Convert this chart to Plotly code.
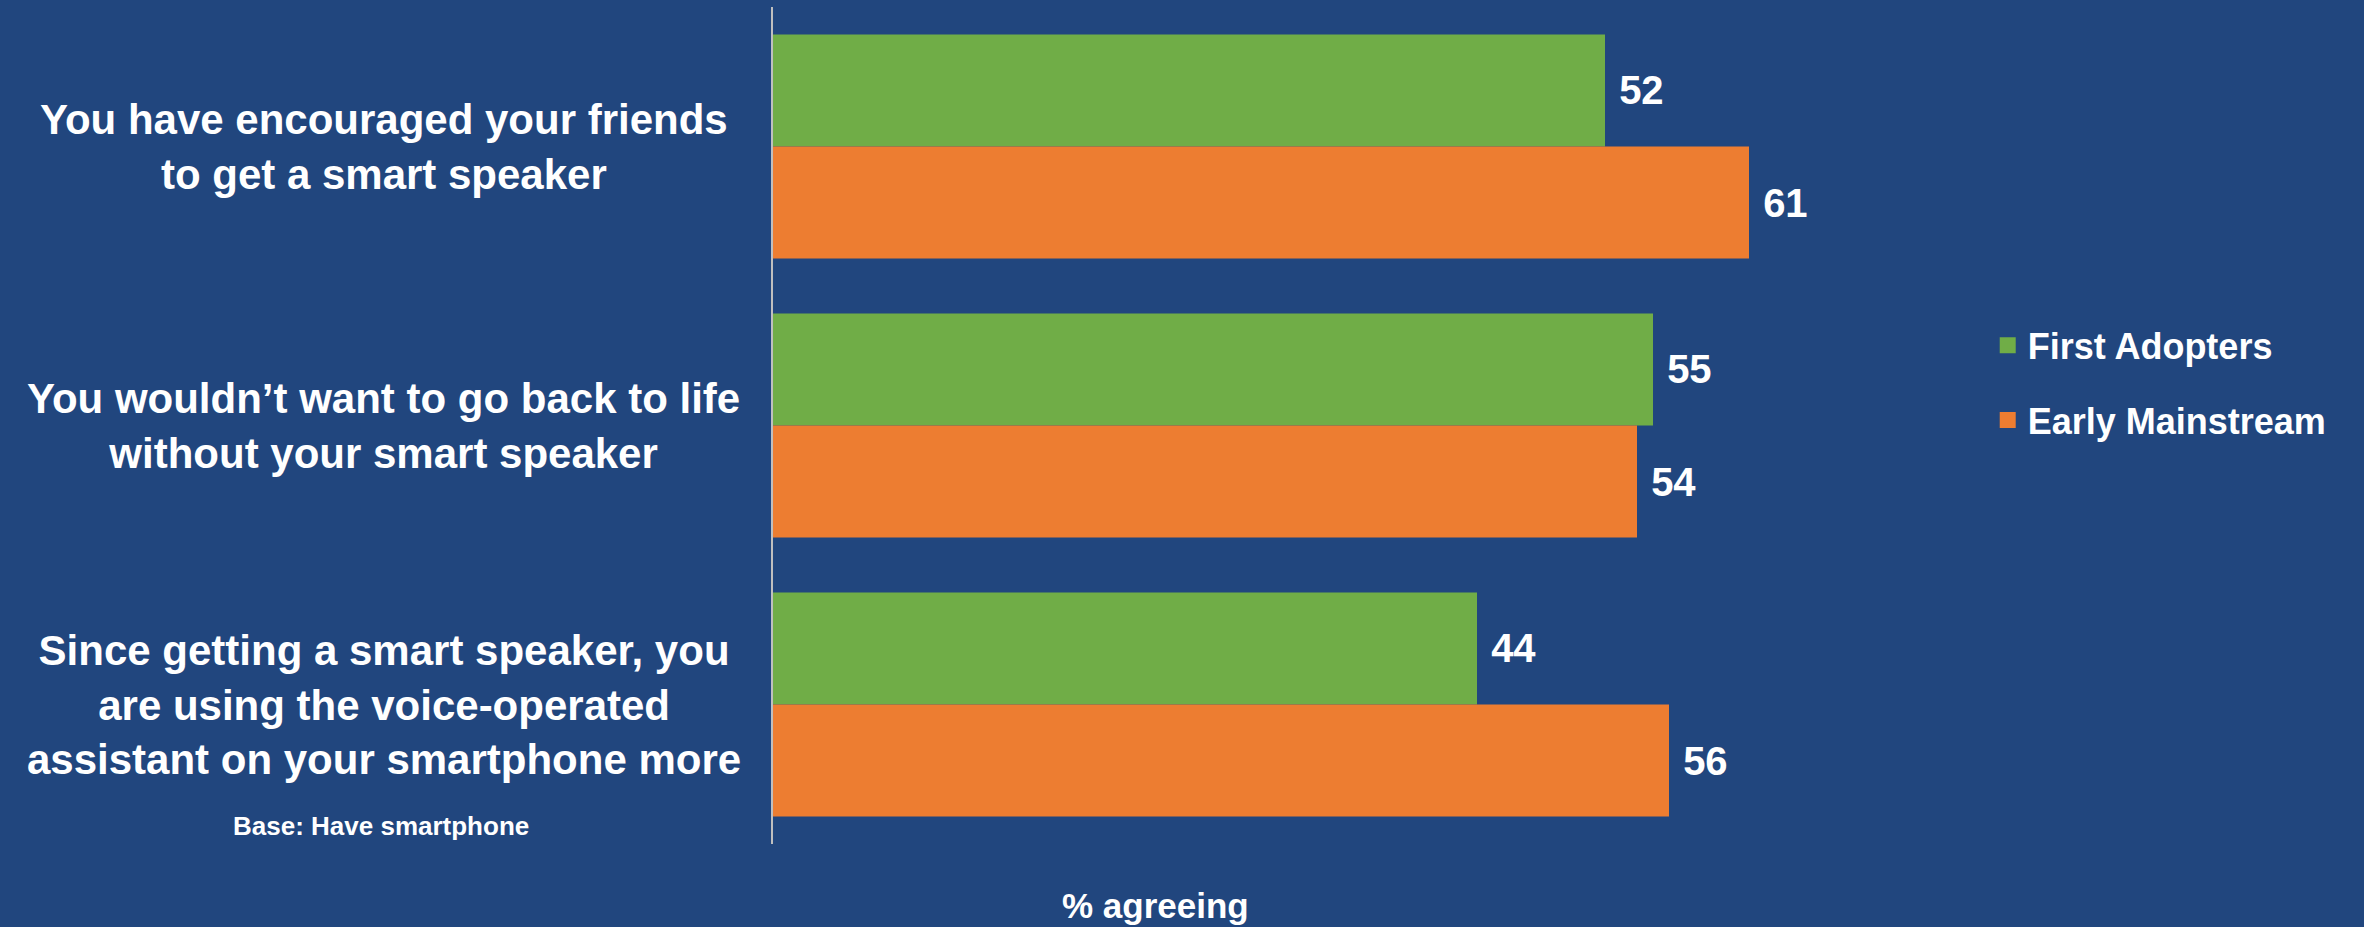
import plotly.graph_objects as go

# Survey statements (top to bottom) and % agreeing per group
statements = [
    "You have encouraged your friends<br>to get a smart speaker",
    "You wouldn\u2019t want to go back to life<br>without your smart speaker",
    "Since getting a smart speaker, you<br>are using the voice-operated<br>assistant on your smartphone more",
]
first_adopters = [52, 55, 44]
early_mainstream = [61, 54, 56]
series_names = ["First Adopters", "Early Mainstream"]

BG = "#21467E"
GREEN = "#70AD47"
ORANGE = "#ED7D31"
FONT = "Liberation Sans, Arial, sans-serif"

fig = go.Figure()

for name, vals, col in [(series_names[0], first_adopters, GREEN),
                        (series_names[1], early_mainstream, ORANGE)]:
    fig.add_trace(go.Bar(
        y=statements, x=vals, orientation="h", name=name,
        marker=dict(color=col, line=dict(width=0)),
        texttemplate="\u00a0<b>%{x}</b>", textposition="outside", cliponaxis=False,
        textfont=dict(color="white", size=40, family=FONT),
        showlegend=False,
    ))

# legend entries with bigger square swatches
for i, (name, col) in enumerate(zip(series_names, [GREEN, ORANGE])):
    fig.add_trace(go.Scatter(
        x=[None], y=[None], mode="markers", name="<b>" + name + "</b>",
        marker=dict(symbol="square", size=16, color=col),
        legendgroup=str(i), hoverinfo="skip",
    ))

# statement labels, centred in the left margin
for s in statements:
    fig.add_annotation(
        text="<b>" + s + "</b>", x=-0.304, xref="paper", y=s, yref="y",
        xanchor="center", yanchor="middle", align="center", showarrow=False,
        font=dict(color="white", size=42, family=FONT),
    )

fig.add_annotation(
    text="<b>Base: Have smartphone</b>", x=-0.306, xref="paper", y=0.022, yref="paper",
    xanchor="center", yanchor="middle", showarrow=False,
    font=dict(color="white", size=26, family=FONT),
)
fig.add_annotation(
    text="<b>% agreeing</b>", x=0.299, xref="paper", y=-0.074, yref="paper",
    xanchor="center", yanchor="middle", showarrow=False,
    font=dict(color="white", size=35, family=FONT),
)

fig.update_layout(
    width=2364, height=927,
    margin=dict(l=773, r=311, t=7, b=83),
    paper_bgcolor=BG, plot_bgcolor=BG,
    barmode="group", bargap=0.197, bargroupgap=0,
    font=dict(family=FONT, color="white"),
    xaxis=dict(range=[0, 80], showgrid=False, zeroline=False,
               showticklabels=False, showline=False, ticks=""),
    yaxis=dict(range=[2.5, -0.5], showgrid=False, zeroline=False,
               showticklabels=False, showline=True, linecolor="#BFBFBF",
               linewidth=2, ticks=""),
    legend=dict(
        x=0.949, xanchor="left", y=0.551, yanchor="middle",
        font=dict(color="white", size=36, family=FONT),
        bgcolor="rgba(0,0,0,0)", traceorder="grouped", tracegroupgap=25,
    ),
)

fig.write_html(
    "out.html",
    config={"displayModeBar": False},
    post_script="document.body.style.margin='0';document.body.style.overflow='hidden';",
)
